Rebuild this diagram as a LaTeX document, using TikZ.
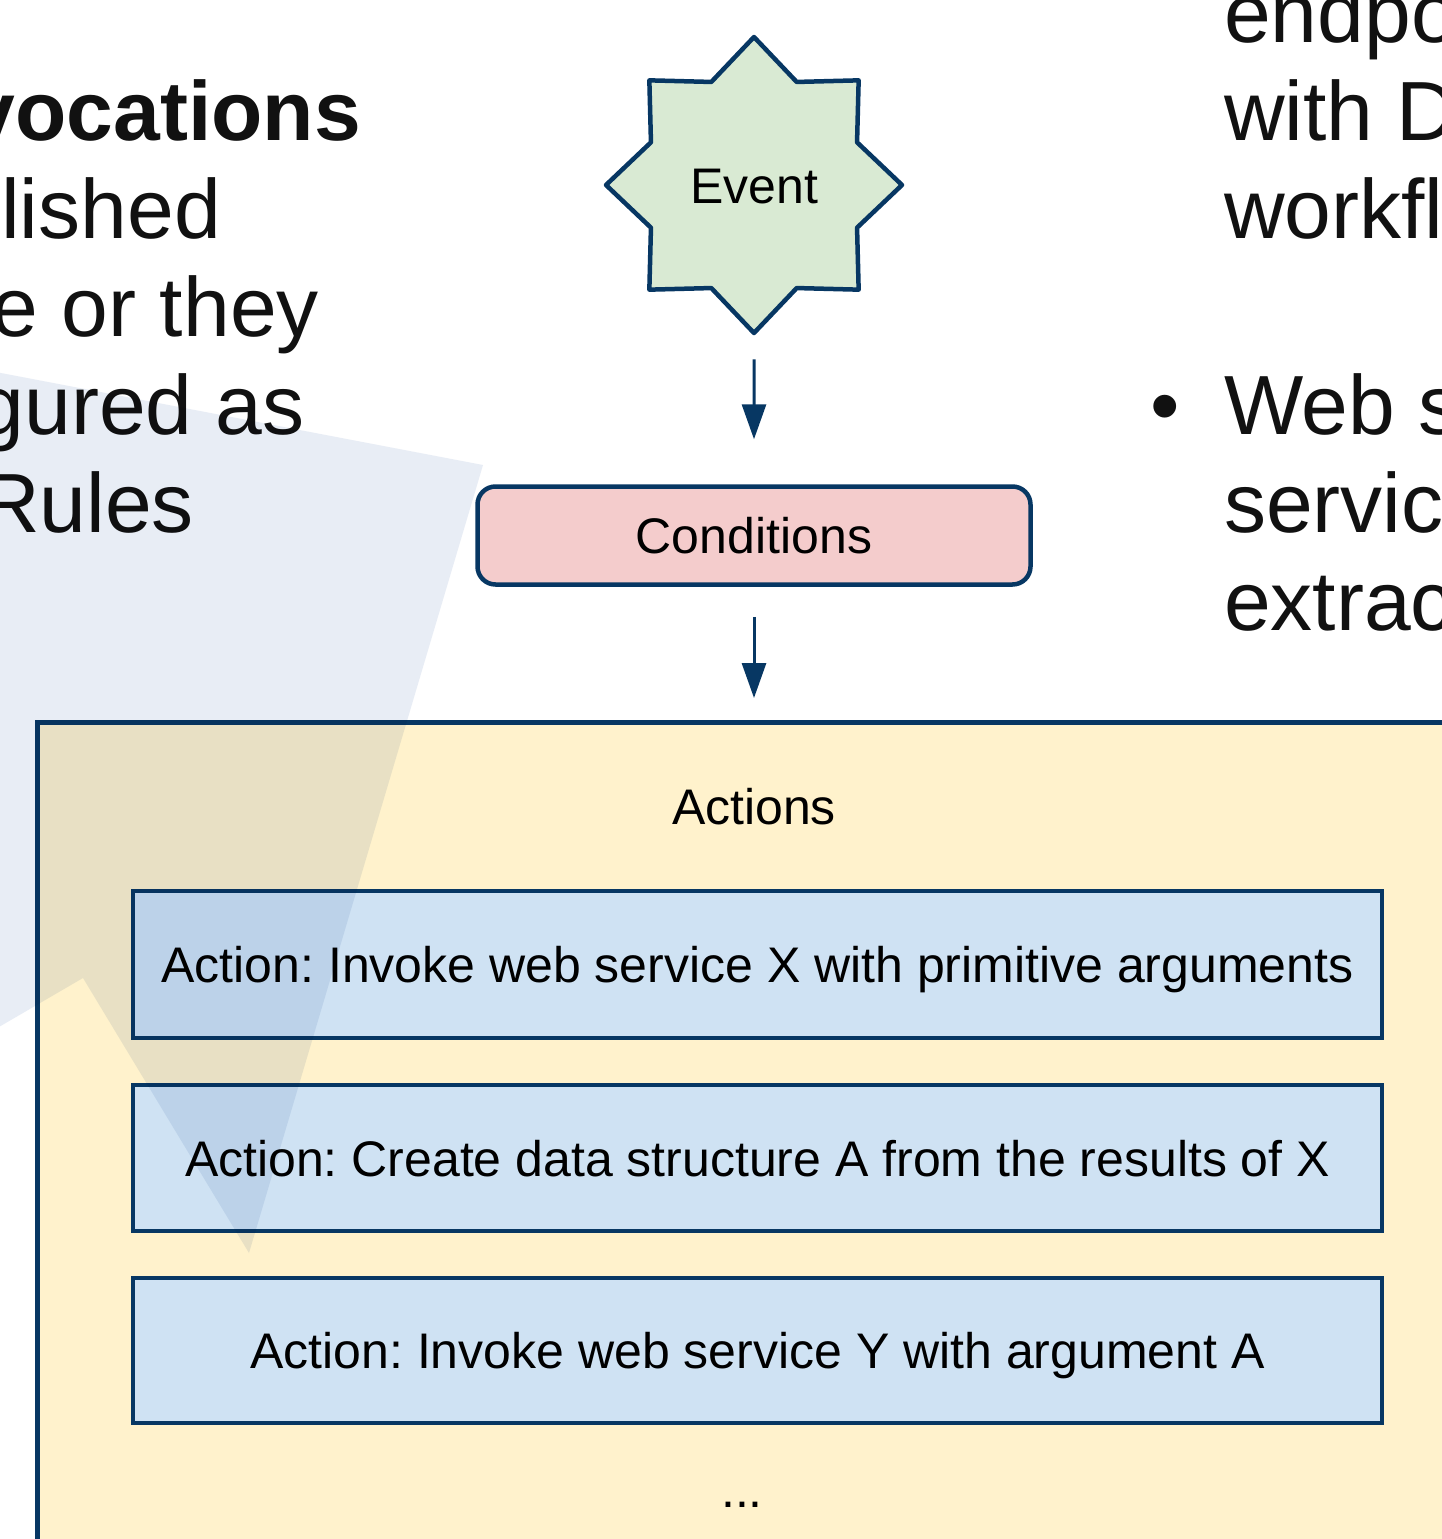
\documentclass[tikz,border=0pt]{standalone}
\usepackage{fontspec}
\setmainfont{Liberation Sans}
\usetikzlibrary{shapes.geometric,arrows.meta}
\definecolor{navy}{HTML}{073763}
\definecolor{ylw}{HTML}{FFF2CC}
\definecolor{lblue}{HTML}{CFE2F3}
\definecolor{lred}{HTML}{F4CCCC}
\definecolor{lgreen}{HTML}{D9EAD3}
\definecolor{ovl}{RGB}{156,178,213}
\definecolor{txt}{HTML}{111111}
\frenchspacing
\tikzset{
  lbl/.style={font=\fontsize{50}{58}\selectfont, text=black, text height=36pt, text depth=0pt, inner sep=0pt},
  bigtxt/.style={font=\fontsize{84}{98}\selectfont, text=txt, inner sep=0pt},
  eventstar/.style={lbl, star, star points=8, star point ratio=1.327, minimum size=296pt, draw=navy, line width=4.5pt, line join=round, fill=lgreen},
  condbox/.style={lbl, rectangle, rounded corners=18pt, draw=navy, line width=4.5pt, fill=lred},
  actbox/.style={lbl, rectangle, draw=navy, line width=4.5pt, fill=lblue},
  container/.style={rectangle, draw=navy, line width=5pt, fill=ylw, inner sep=0pt},
  arr/.style={draw=navy, line width=3pt, -{Triangle[length=35pt,width=24pt]}},
}
\begin{document}
\begin{tikzpicture}[x=1pt,y=-1pt]
\useasboundingbox (0,0) rectangle (1442,1539);
\clip (0,0) rectangle (1442,1539);
\fill[white] (0,0) rectangle (1442,1539);

% slide text, left
\node[bigtxt, anchor=base east, font=\fontsize{84}{98}\selectfont\bfseries] (l1) at (361,140) {vocations};
\node[bigtxt, anchor=base east] (l2) at (221,238) {lished};
\node[bigtxt, anchor=base east] (l3) at (319,336) {e or they};
\node[bigtxt, anchor=base east] (l4) at (305,434) {gured as};
\node[bigtxt, anchor=base east] (l5) at (194,532) {Rules};

% slide text, right
\node[bigtxt, anchor=base west] (r1) at (1224,42) {endpo};
\node[bigtxt, anchor=base west] (r2) at (1224,140) {with D};
\node[bigtxt, anchor=base west] (r3) at (1224,238) {workfl};
\node[bigtxt, anchor=base] (bul) at (1165,434) {\textbullet};
\node[bigtxt, anchor=base west] (r4) at (1224,434) {Web s};
\node[bigtxt, anchor=base west] (r5) at (1224,532) {servic};
\node[bigtxt, anchor=base west] (r6) at (1224,630) {extrac};

% diagram
\node[eventstar] (event) at (754,185) {Event};
\node[condbox, minimum width=553pt, minimum height=98pt] (cond) at (754,535.5) {Conditions};
\node[container, anchor=north west, minimum width=1450pt, minimum height=860pt] (actions) at (35,720) {};
\node[lbl, anchor=base] (actlbl) at (754,824) {Actions};
\node[actbox, minimum width=1249pt, minimum height=147pt] (a1) at (757.5,964.5) {Action: Invoke web service X with primitive arguments};
\node[actbox, minimum width=1249pt, minimum height=146pt] (a2) at (757.5,1158) {Action: Create data structure A from the results of X};
\node[actbox, minimum width=1249pt, minimum height=145pt] (a3) at (757.5,1350.5) {Action: Invoke web service Y with argument A};
\node[lbl, anchor=base] (dots) at (742,1507) {...};

\draw[arr, shorten <=23pt, shorten >=45pt] (event.south) -- (cond.north);
\draw[arr, shorten <=30pt, shorten >=22pt] (cond.south) -- (cond.south |- actions.north);

% translucent backdrop shape
\fill[ovl, opacity=.23, blend mode=multiply] (-20,369) -- (483,465) -- (249,1253) -- (83,978) -- (-20,1038) -- cycle;
\end{tikzpicture}
\end{document}
